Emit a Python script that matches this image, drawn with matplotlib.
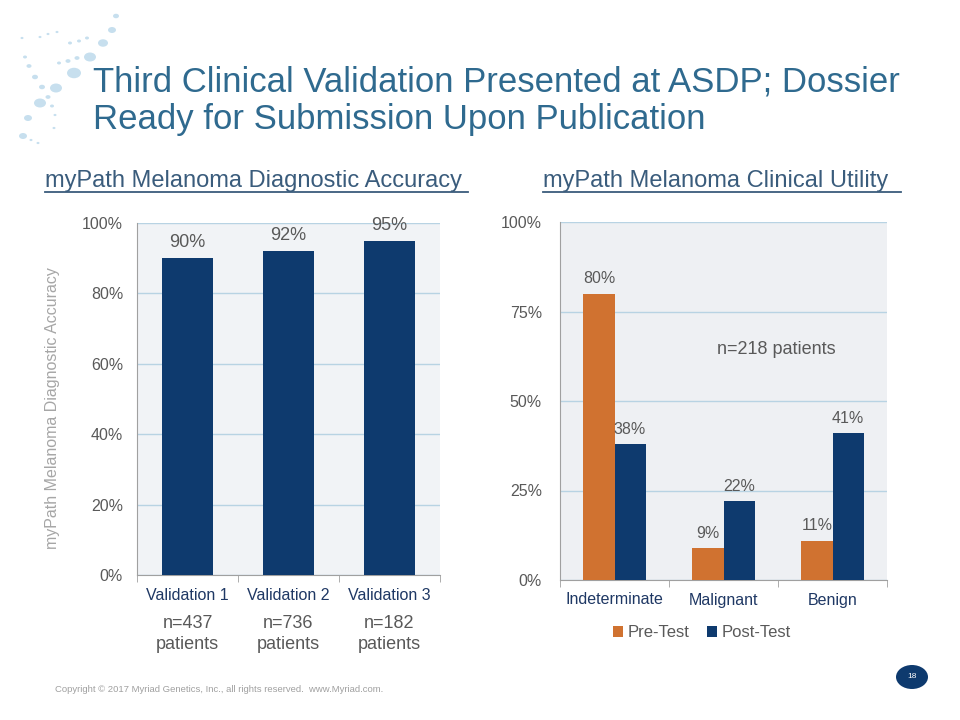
import matplotlib
matplotlib.use("Agg")
import matplotlib.pyplot as plt
import numpy as np
from matplotlib.patches import Circle

plt.rcParams['font.family'] = ['Liberation Sans', 'DejaVu Sans']

# ---- data ----
val_categories = ["Validation 1", "Validation 2", "Validation 3"]
val_accuracy = [90, 92, 95]
val_n = ["n=437\npatients", "n=736\npatients", "n=182\npatients"]
val_yticks = [0, 20, 40, 60, 80, 100]

util_categories = ["Indeterminate", "Malignant", "Benign"]
pre_test = [80, 9, 11]
post_test = [38, 22, 41]
util_yticks = [0, 25, 50, 75, 100]
series_names = ["Pre-Test", "Post-Test"]

NAVY = "#0E3A6E"
ORANGE = "#D07230"
TITLE_C = "#2F6A8F"
SUB_C = "#3A5C7C"
GRAY = "#595959"
GRID = "#B8D3E3"
BG = "#F1F3F6"

fig = plt.figure(figsize=(9.6, 7.2), dpi=100)

# decorative dots (top-left logo swirl)
dots = [(116, 16, 3), (112, 30, 4), (103, 43, 5), (90, 57, 6), (74, 73, 7), (56, 88, 6),
        (40, 103, 6), (28, 118, 4), (23, 136, 4),
        (22, 38, 1.5), (25, 57, 2), (29, 66, 2.5), (35, 77, 3), (42, 87, 3), (48, 97, 2.5),
        (52, 106, 2), (55, 115, 1.5), (54, 128, 1.5),
        (40, 37, 1.5), (48, 34, 1.5), (57, 32, 1.5),
        (70, 43, 2), (79, 41, 2), (87, 38, 2),
        (59, 63, 2), (68, 61, 2.5), (77, 58, 2.5),
        (31, 140, 1.5), (38, 143, 1.5)]
for x, y, r in dots:
    fig.patches.append(Circle((x / 960, 1 - y / 720), r / 960, transform=fig.transFigure,
                              facecolor="#A9CFE6", edgecolor="none", alpha=0.65))

fig.text(93 / 960, 1 - 91 / 720, "Third Clinical Validation Presented at ASDP; Dossier",
         fontsize=25, color=TITLE_C)
fig.text(93 / 960, 1 - 129 / 720, "Ready for Submission Upon Publication",
         fontsize=25, color=TITLE_C)

fig.text(45 / 960, 1 - 187 / 720, "myPath Melanoma Diagnostic Accuracy",
         fontsize=17, color=SUB_C)
fig.text(543 / 960, 1 - 187 / 720, "myPath Melanoma Clinical Utility ",
         fontsize=17, color=SUB_C)
# underlines
fig.add_artist(plt.Line2D([45 / 960, 468 / 960], [1 - 192 / 720] * 2, color=SUB_C, lw=1.3))
fig.add_artist(plt.Line2D([543 / 960, 901 / 960], [1 - 192 / 720] * 2, color=SUB_C, lw=1.3))

# ---- left chart ----
ax1 = fig.add_axes([137 / 960, 1 - 575 / 720, 303 / 960, 352 / 720])
ax1.set_facecolor(BG)
x1 = np.arange(len(val_categories))
ax1.bar(x1, val_accuracy, width=0.5, color=NAVY, zorder=3)
for xi, v in zip(x1, val_accuracy):
    ax1.text(xi, v + 2, f"{v}%", ha="center", va="bottom", fontsize=13, color=GRAY)
ax1.set_xlim(-0.5, len(val_categories) - 0.5)
ax1.set_ylim(0, 100)
ax1.set_yticks(val_yticks)
ax1.set_yticklabels([f"{v}%" for v in val_yticks], fontsize=11.5, color=GRAY)
ax1.yaxis.grid(True, color=GRID, lw=1, zorder=0)
ax1.set_axisbelow(True)
ax1.set_xticks(x1)
ax1.set_xticklabels(val_categories, fontsize=11.5, color="#1F3864")
ax1.tick_params(axis="x", length=0, pad=9)
ax1.set_xticks(np.arange(-0.5, len(val_categories), 1.0), minor=True)
ax1.tick_params(axis="x", which="minor", length=5, color="#A0A0A0", direction="out")
ax1.tick_params(axis="y", length=0, pad=10)
for s in ["top", "right"]:
    ax1.spines[s].set_visible(False)
for s in ["left", "bottom"]:
    ax1.spines[s].set_color("#A0A0A0")
ax1.set_ylabel("myPath Melanoma Diagnostic Accuracy", fontsize=11.5, color="#A6A6A6")
ax1.yaxis.set_label_coords(-77 / 303, 0.474)
for xi, lab in zip(x1, val_n):
    ax1.annotate(lab, xy=(xi, 0), xycoords=("data", "axes fraction"), xytext=(0, -29),
                 textcoords="offset points", ha="center", va="top", fontsize=13,
                 color=GRAY, linespacing=1.3)

# ---- right chart ----
ax2 = fig.add_axes([560 / 960, 1 - 580 / 720, 327 / 960, 358 / 720])
ax2.set_facecolor("#EEF0F3")
x2 = np.arange(len(util_categories))
w = 0.285
ax2.bar(x2 - w / 2, pre_test, width=w, color=ORANGE, zorder=3, label=series_names[0])
ax2.bar(x2 + w / 2, post_test, width=w, color=NAVY, zorder=3, label=series_names[1])
for xi, v in zip(x2, pre_test):
    ax2.text(xi - w / 2, v + 2, f"{v}%", ha="center", va="bottom", fontsize=11.5, color=GRAY, zorder=4)
for xi, v in zip(x2, post_test):
    ax2.text(xi + w / 2, v + 2, f"{v}%", ha="center", va="bottom", fontsize=11.5, color=GRAY, zorder=4)
ax2.set_xlim(-0.5, len(util_categories) - 0.5)
ax2.set_ylim(0, 100)
ax2.set_yticks(util_yticks)
ax2.set_yticklabels([f"{v}%" for v in util_yticks], fontsize=11.5, color=GRAY)
ax2.yaxis.grid(True, color=GRID, lw=1, zorder=0)
ax2.set_axisbelow(True)
ax2.set_xticks(x2)
ax2.set_xticklabels(util_categories, fontsize=11.5, color="#1F3864")
ax2.tick_params(axis="x", length=0, pad=9)
ax2.set_xticks(np.arange(-0.5, len(util_categories), 1.0), minor=True)
ax2.tick_params(axis="x", which="minor", length=5, color="#A0A0A0", direction="out")
ax2.tick_params(axis="y", length=0, pad=13)
for s in ["top", "right"]:
    ax2.spines[s].set_visible(False)
for s in ["left", "bottom"]:
    ax2.spines[s].set_color("#A0A0A0")
ax2.text(0.663, 0.645, "n=218 patients", transform=ax2.transAxes, ha="center", va="center",
         fontsize=13, color=GRAY)
leg = ax2.legend(loc="upper center", bbox_to_anchor=(0.434, -0.085), ncol=2, frameon=False,
                 fontsize=12, handlelength=0.6, handleheight=0.6, handletextpad=0.3,
                 columnspacing=1.0)
for t in leg.get_texts():
    t.set_color(GRAY)

# ---- footer ----
fig.text(55 / 960, 1 - 692 / 720, "Copyright © 2017 Myriad Genetics, Inc., all rights reserved.  www.Myriad.com.",
         fontsize=6.8, color="#A0A0A0")
fig.patches.append(Circle((912 / 960, 1 - 677 / 720), 16 / 960, transform=fig.transFigure,
                          facecolor=NAVY, edgecolor="none"))
fig.text(912 / 960, 1 - 677 / 720, "18", fontsize=6, color="white", ha="center", va="center")

fig.savefig("out.png", dpi=100)
